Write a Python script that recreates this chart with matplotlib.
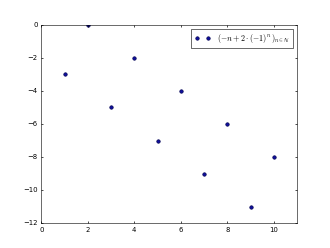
import matplotlib
matplotlib.use("Agg")
import matplotlib.pyplot as plt

plt.style.use("classic")

n_vals = [1, 2, 3, 4, 5, 6, 7, 8, 9, 10]
seq_vals = [-3, 0, -5, -2, -7, -4, -9, -6, -11, -8]
label = r"$(-n+2\cdot(-1)^n\,)_{n\in\mathbb{N}}$"

scale = 0.4125
plt.rcParams["font.size"] = 12 * scale
plt.rcParams["lines.markersize"] = 6 * scale
plt.rcParams["lines.markeredgewidth"] = 0.5
plt.rcParams["axes.linewidth"] = 1.0 * scale
plt.rcParams["xtick.major.size"] = 4 * scale
plt.rcParams["ytick.major.size"] = 4 * scale
plt.rcParams["xtick.minor.size"] = 2 * scale
plt.rcParams["ytick.minor.size"] = 2 * scale
plt.rcParams["xtick.major.pad"] = 6 * scale
plt.rcParams["ytick.major.pad"] = 6 * scale

fig = plt.figure(figsize=(3.3, 2.48), dpi=100)
ax = fig.add_subplot(111)
ax.plot(n_vals, seq_vals, "o", color="#1010a0", markeredgecolor="#000050", label=label)
ax.set_xlim(0, 11)
ax.set_ylim(-12, 0)
leg = ax.legend(loc="upper right", numpoints=2, fontsize=14 * scale)
leg.get_frame().set_linewidth(1.0 * scale)

fig.savefig("out.png", dpi=100)
